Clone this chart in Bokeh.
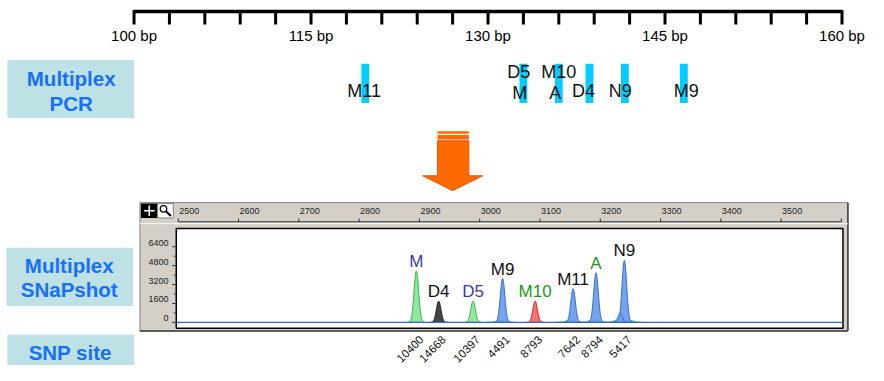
import numpy as np
from bokeh.plotting import figure
from bokeh.models import Range1d
from bokeh.core.properties import value
from bokeh.embed import file_html
from bokeh.resources import INLINE

# ---------------- data ----------------
bp_ticks = list(range(100, 161, 3))
bp_label_vals = [100, 115, 130, 145, 160]

pcr_bar_bp = [119.6, 133.0, 136.0, 138.6, 141.6, 146.6]
pcr_names = ["M11", "D5", "M", "M10", "A", "D4", "N9", "M9"]
pcr_name_bp = [119.5, 132.6, 132.7, 136.0, 135.7, 138.1, 141.2, 146.8]
pcr_name_row = ["mid", "top", "low", "top", "low", "mid", "mid", "mid"]

size_ticks = list(range(2500, 3601, 100))
size_label_vals = list(range(2500, 3501, 100))
rfu_ticks = [0, 1600, 3200, 4800, 6400]
rfu_minor = [800, 2400, 4000, 5600]

peak_names = ["M", "D4", "D5", "M9", "M10", "M11", "A", "N9"]
peak_size = [2895, 2932, 2989, 3038, 3092, 3155, 3193, 3240]
peak_height = [4350, 1800, 1800, 3700, 1800, 2850, 4200, 5250]
peak_dye = ["green", "black", "green", "blue", "red", "blue", "blue", "blue"]
peak_label_dye = ["blue", "black", "blue", "black", "green", "black", "green", "black"]
snp_ids = ["10400", "14668", "10397", "4491", "8793", "7642", "8794", "5417"]

shoulder_size = [3233]
shoulder_height = [800]
bump_size = [3035, 3150, 3188, 3230, 3248]
bump_height = [160, 180, 200, 220, 180]

# ---------------- styles ----------------
FONT = value("Liberation Sans")
dye_fill = {"green": "#8EE49A", "black": "#3A3A3A", "blue": "#6F9EEA", "red": "#F26A6A"}
dye_line = {"green": "#2DB84B", "black": "#202020", "blue": "#2F6ED8", "red": "#D42828"}
label_col = {"blue": "#3B3BA8", "black": "#111111", "green": "#1E961E"}
BOX = "#BDE1E4"
BOX_TXT = "#1570FF"
PANEL = "#D4D0C8"

W, H = 868, 365
# the figure frame shows the reference canvas 0..884 x 0..381
X0, X1 = 0, 884
Y0, Y1 = 0, 381


def xspan(v0, p0, v1, p1):
    k = (p1 - p0) / (v1 - v0)
    return Range1d(v0 + (X0 - p0) / k, v0 + (X1 - p0) / k)


def yspan(v0, p0, v1, p1):
    k = (p1 - p0) / (v1 - v0)
    return Range1d(v0 + (Y1 - p0) / k, v0 + (Y0 - p0) / k)


p = figure(width=W, height=H, x_range=Range1d(X0, X1), y_range=Range1d(Y1, Y0),
           x_axis_type=None, y_axis_type=None, output_backend="svg",
           toolbar_location=None, min_border=0, outline_line_color=None)
p.grid.visible = False
p.background_fill_color = "white"
p.border_fill_color = "white"

p.extra_x_ranges = {"bp": xspan(100, 136, 160, 857),
                    "size": xspan(2500, 181, 3500, 795)}
p.extra_y_ranges = {"rfu": yspan(0, 336, 6400, 257)}

# ---------------- top bp ruler ----------------
p.segment(x0=[100], x1=[160], y0=[11.5], y1=[11.5], x_range_name="bp",
          line_color="black", line_width=3.5)
p.segment(x0=bp_ticks, x1=bp_ticks, y0=[10] * len(bp_ticks), y1=[25] * len(bp_ticks),
          x_range_name="bp", line_color="black", line_width=3)
p.text(x=bp_label_vals, y=[37] * len(bp_label_vals), text=[f"{v} bp" for v in bp_label_vals],
       x_range_name="bp", text_font=FONT, text_font_size="15px", text_align="center",
       text_baseline="middle", text_color="black")

# ---------------- left boxes ----------------
p.quad(left=[7, 6, 7], right=[136, 135, 136], top=[62, 258, 349], bottom=[123, 319, 381],
       fill_color=BOX, line_color=None)
p.text(x=[72, 72, 70, 70, 71], y=[81, 107, 277, 302, 367],
       text=["Multiplex", "PCR", "Multiplex", "SNaPshot", "SNP site"],
       text_font=FONT, text_font_size="20.5px", text_font_style="bold",
       text_color=BOX_TXT, text_align="center", text_baseline="middle")

# ---------------- PCR markers ----------------
p.quad(left=[b - 0.33 for b in pcr_bar_bp], right=[b + 0.33 for b in pcr_bar_bp],
       top=[66] * len(pcr_bar_bp), bottom=[107] * len(pcr_bar_bp),
       x_range_name="bp", fill_color="#00CCFF", line_color=None)
row_y = {"top": 75, "low": 97, "mid": 94}
p.text(x=pcr_name_bp, y=[row_y[r] for r in pcr_name_row], text=pcr_names,
       x_range_name="bp", text_font=FONT, text_font_size="18px", text_align="center",
       text_baseline="middle", text_color="#111111")

# ---------------- arrow ----------------
p.quad(left=[445, 445], right=[477, 477], top=[136.5, 140.5], bottom=[139, 144.5],
       fill_color="#FF6A00", line_color=None)
p.quad(left=[445], right=[477], top=[144.5], bottom=[146.5], fill_color="#E8B08A", line_color=None)
p.patch(x=[445, 477, 477, 491, 460.5, 430, 445], y=[146.5, 146.5, 183, 183, 198.5, 183, 183],
        fill_color="#FF6A00", line_color="#D85A10", line_width=1)

# ---------------- instrument panel ----------------
p.quad(left=[142], right=[863], top=[211], bottom=[345], fill_color=PANEL,
       line_color="#808080", line_width=1)
p.segment(x0=[142, 863], x1=[863, 863], y0=[345, 211], y1=[345, 345], line_color="#404040", line_width=1.5)
# icons
p.quad(left=[143], right=[160], top=[212], bottom=[227], fill_color="black", line_color=None)
p.quad(left=[160], right=[176], top=[212], bottom=[227], fill_color="white", line_color="#808080")
p.segment(x0=[151.5, 146], x1=[151.5, 157], y0=[214, 219.5], y1=[225, 219.5], line_color="white", line_width=1.5)
p.circle(x=[166], y=[217.5], radius=3.3, fill_color="white", line_color="black", line_width=1.3)
p.segment(x0=[168.5], x1=[173.5], y0=[220], y1=[225], line_color="black", line_width=2)
# size ruler
p.segment(x0=[size_ticks[0]], x1=[size_ticks[-1]], y0=[231], y1=[231], x_range_name="size",
          line_color="#303030", line_width=1)
p.segment(x0=size_ticks, x1=size_ticks, y0=[227.5] * len(size_ticks), y1=[231] * len(size_ticks),
          x_range_name="size", line_color="#303030", line_width=1)
p.text(x=size_label_vals, y=[220] * len(size_label_vals), text=[str(v) for v in size_label_vals],
       x_range_name="size", x_offset=1, text_font=FONT, text_font_size="9px",
       text_align="left", text_baseline="middle", text_color="#222222")
p.segment(x0=[142], x1=[863], y0=[233], y1=[233], line_color="#FFFFFF", line_width=1)
# plot area
p.quad(left=[179], right=[858], top=[238], bottom=[342], fill_color="white",
       line_color="black", line_width=1.5)
# y axis
p.segment(x0=[175] * len(rfu_ticks), x1=[178] * len(rfu_ticks), y0=rfu_ticks, y1=rfu_ticks,
          y_range_name="rfu", line_color="#202020", line_width=1)
p.segment(x0=[176.5] * len(rfu_minor), x1=[178] * len(rfu_minor), y0=rfu_minor, y1=rfu_minor,
          y_range_name="rfu", line_color="#202020", line_width=1)
p.text(x=[171] * len(rfu_ticks), y=rfu_ticks, text=[str(v) for v in rfu_ticks], y_range_name="rfu",
       y_offset=-4, text_font=FONT, text_font_size="9px", text_align="right",
       text_baseline="middle", text_color="#222222")

# ---------------- electropherogram ----------------
SIG = 3.8


def peak_shape(c, h, sig, half=16):
    xs = np.linspace(c - half, c + half, 65)
    ys = h * np.exp(-0.5 * ((xs - c) / sig) ** 2)
    return list(xs), list(ys)


# faint green background bumps
bx, by = zip(*[peak_shape(c, h, 7, 24) for c, h in zip(bump_size, bump_height)])
p.patches(xs=list(bx), ys=list(by), x_range_name="size", y_range_name="rfu",
          fill_color=dye_fill["green"], line_color=dye_line["green"], line_width=1)

xs_all, ys_all = [], []
for c, h in zip(peak_size, peak_height):
    xx, yy = peak_shape(c, h, SIG)
    xs_all.append(xx)
    ys_all.append(yy)
for c, h in zip(shoulder_size, shoulder_height):
    xx, yy = peak_shape(c, h, 3.5)
    xs_all.append(xx)
    ys_all.append(yy)
dyes = peak_dye + ["blue"] * len(shoulder_size)
p.patches(xs=xs_all, ys=ys_all, x_range_name="size", y_range_name="rfu",
          fill_color=[dye_fill[d] for d in dyes], line_color=[dye_line[d] for d in dyes],
          line_width=1, fill_alpha=0.95)

p.segment(x0=[2497], x1=[3603], y0=[0], y1=[0], x_range_name="size", y_range_name="rfu",
          line_color="#3A66C8", line_width=1.2)

LABEL_GAP = 800
p.text(x=peak_size, y=[h + LABEL_GAP for h in peak_height], text=peak_names,
       x_range_name="size", y_range_name="rfu", text_font=FONT, text_font_size="17px",
       text_align="center", text_baseline="middle",
       text_color=[label_col[d] for d in peak_label_dye])

# SNP ids under peaks
p.text(x=peak_size, y=[352] * len(peak_size), text=snp_ids, x_range_name="size",
       x_offset=5, angle=np.pi / 4, text_font=FONT, text_font_size="11.5px",
       text_align="right", text_baseline="middle", text_color="#111111")

open("out.html", "w").write(file_html(p, INLINE))
